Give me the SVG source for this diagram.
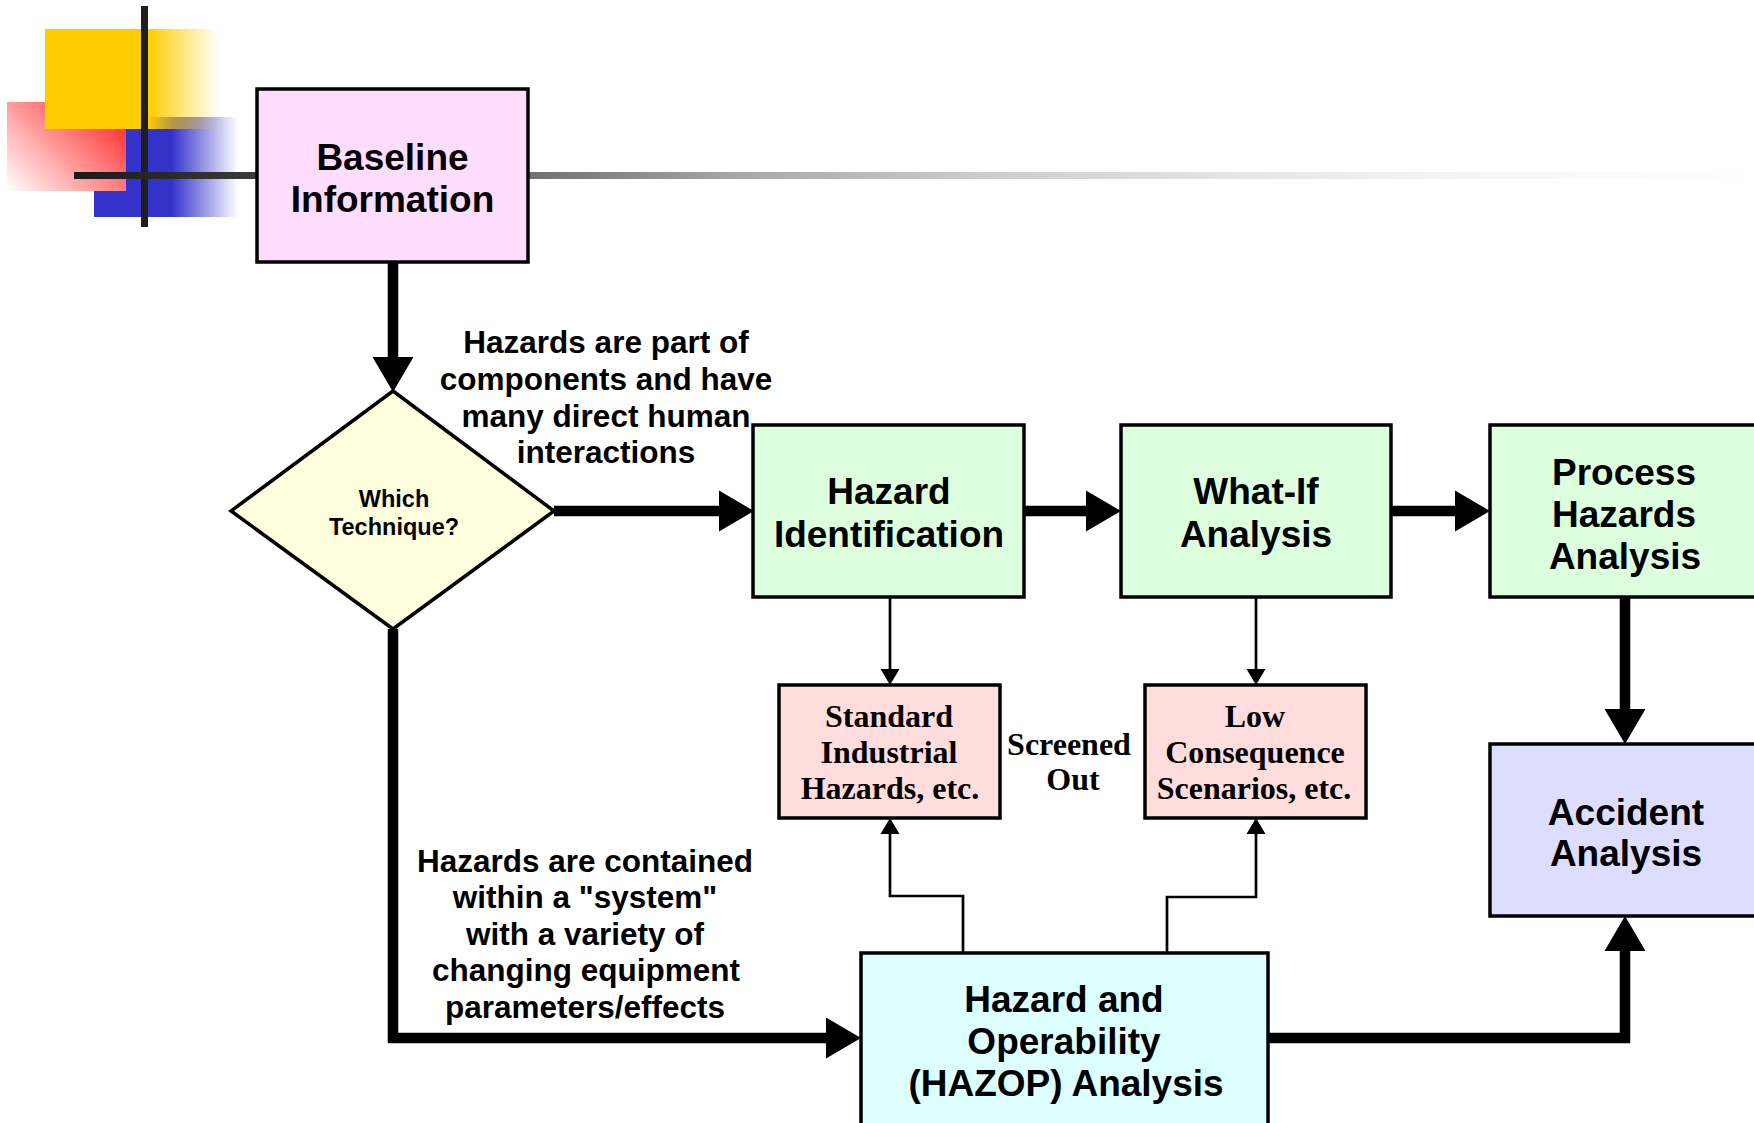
<svg xmlns="http://www.w3.org/2000/svg" width="1754" height="1123" viewBox="0 0 1754 1123">
<style>
  .box { stroke:#000; stroke-width:3.5; }
  .t { font-family:"Liberation Sans", Arial, sans-serif; font-weight:bold; fill:#000; text-anchor:middle; }
  .big { font-size:37px; }
  .lbl { font-size:31.5px; }
  .q { font-size:23.5px; }
  .s { font-family:"Liberation Serif", "Times New Roman", serif; font-weight:bold; font-size:32px; fill:#000; text-anchor:middle; }
  .thick { fill:none; stroke:#000; stroke-width:10.5; stroke-linejoin:miter; }
  .thin { fill:none; stroke:#000; stroke-width:2.7; stroke-linejoin:miter; }
</style>
<defs>
  <marker id="bigArrow" markerUnits="userSpaceOnUse" markerWidth="36" markerHeight="41" refX="0" refY="20.5" orient="auto" overflow="visible">
    <path d="M0,0 L35,20.5 L0,41 z" fill="#000"/>
  </marker>
  <marker id="smallArrow" markerUnits="userSpaceOnUse" markerWidth="17" markerHeight="19" refX="0" refY="9.5" orient="auto" overflow="visible">
    <path d="M0,0 L16,9.5 L0,19 z" fill="#000"/>
  </marker>
  <linearGradient id="gYellow" x1="0" y1="0" x2="1" y2="0">
    <stop offset="0" stop-color="#FFCC00"/>
    <stop offset="0.59" stop-color="#FFCC00"/>
    <stop offset="1" stop-color="#FFCC00" stop-opacity="0"/>
  </linearGradient>
  <linearGradient id="gBlue" x1="0" y1="0" x2="1" y2="0">
    <stop offset="0" stop-color="#3333CC"/>
    <stop offset="0.54" stop-color="#3333CC"/>
    <stop offset="1" stop-color="#3333CC" stop-opacity="0"/>
  </linearGradient>
  <linearGradient id="gRed" x1="1" y1="0.25" x2="0" y2="1">
    <stop offset="0" stop-color="#FF3333"/>
    <stop offset="1" stop-color="#FFFFFF"/>
  </linearGradient>
  <linearGradient id="gLine" gradientUnits="userSpaceOnUse" x1="74" y1="0" x2="1754" y2="0">
    <stop offset="0" stop-color="#1a1a1a"/>
    <stop offset="0.109" stop-color="#3a3a3a"/>
    <stop offset="0.27" stop-color="#707070"/>
    <stop offset="0.396" stop-color="#a8a8a8"/>
    <stop offset="0.539" stop-color="#cccccc"/>
    <stop offset="0.696" stop-color="#e6e6e6"/>
    <stop offset="0.825" stop-color="#f5f5f5"/>
    <stop offset="1" stop-color="#ffffff"/>
  </linearGradient>
</defs>
<rect width="1754" height="1123" fill="#fff"/>

<!-- decoration -->
<rect x="94" y="117" width="144" height="100" fill="url(#gBlue)"/>
<rect x="7" y="102" width="119" height="89" fill="url(#gRed)"/>
<rect x="45" y="29" width="174" height="100" fill="url(#gYellow)"/>
<rect x="141" y="6" width="7" height="221" fill="#1e1e1e"/>
<rect x="74" y="172" width="1680" height="7" fill="url(#gLine)"/>

<g id="connectors">
  <path class="thick" d="M393,262 V357" marker-end="url(#bigArrow)"/>
  <path class="thick" d="M554,511 H719" marker-end="url(#bigArrow)"/>
  <path class="thick" d="M1024,511 H1086" marker-end="url(#bigArrow)"/>
  <path class="thick" d="M1391,511 H1455" marker-end="url(#bigArrow)"/>
  <path class="thick" d="M1625,597 V709" marker-end="url(#bigArrow)"/>
  <path class="thick" d="M393,629 V1038 H826" marker-end="url(#bigArrow)"/>
  <path class="thick" d="M1268,1038 H1625 V951" marker-end="url(#bigArrow)"/>
  <path class="thin" d="M890,597 V669" marker-end="url(#smallArrow)"/>
  <path class="thin" d="M1256,597 V669" marker-end="url(#smallArrow)"/>
  <path class="thin" d="M963,953 V896 H890 V834" marker-end="url(#smallArrow)"/>
  <path class="thin" d="M1167,953 V897 H1256 V834" marker-end="url(#smallArrow)"/>
</g>

<g id="baseline">
  <rect class="box" x="257" y="89" width="271" height="173" fill="#FFDDFF"/>
  <text class="t big" x="392.5" y="170">Baseline</text>
  <text class="t big" x="392.5" y="212">Information</text>
</g>

<g id="which-technique">
  <polygon class="box" points="393,391 554,511 393,629 231,511" fill="#FFFFDD" stroke-width="4"/>
  <text class="t q" x="394" y="507">Which</text>
  <text class="t q" x="394" y="535">Technique?</text>
</g>

<g id="label-components">
  <text class="t lbl" x="606" y="353">Hazards are part of</text>
  <text class="t lbl" x="606" y="390">components and have</text>
  <text class="t lbl" x="606" y="427">many direct human</text>
  <text class="t lbl" x="606" y="463">interactions</text>
</g>

<g id="hazard-identification">
  <rect class="box" x="753" y="425" width="271" height="172" fill="#DDFFDD"/>
  <text class="t big" x="889" y="504">Hazard</text>
  <text class="t big" x="889" y="547">Identification</text>
</g>

<g id="what-if">
  <rect class="box" x="1121" y="425" width="270" height="172" fill="#DDFFDD"/>
  <text class="t big" x="1256" y="504">What-If</text>
  <text class="t big" x="1256" y="547">Analysis</text>
</g>

<g id="process-hazards">
  <rect class="box" x="1490" y="425" width="270" height="172" fill="#DDFFDD"/>
  <text class="t big" x="1624" y="485">Process</text>
  <text class="t big" x="1624" y="527">Hazards</text>
  <text class="t big" x="1625" y="569">Analysis</text>
</g>

<g id="standard-industrial">
  <rect class="box" x="779" y="685" width="221" height="133" fill="#FFDDDD"/>
  <text class="s" x="889" y="727">Standard</text>
  <text class="s" x="889" y="763">Industrial</text>
  <text class="s" x="890" y="799">Hazards, etc.</text>
</g>

<g id="screened-out">
  <text class="s" x="1069" y="755">Screened</text>
  <text class="s" x="1073" y="790">Out</text>
</g>

<g id="low-consequence">
  <rect class="box" x="1145" y="685" width="221" height="133" fill="#FFDDDD"/>
  <text class="s" x="1255" y="727">Low</text>
  <text class="s" x="1255" y="763">Consequence</text>
  <text class="s" x="1254" y="799">Scenarios, etc.</text>
</g>

<g id="accident-analysis">
  <rect class="box" x="1490" y="744" width="270" height="172" fill="#DDDDFF"/>
  <text class="t big" x="1626" y="825">Accident</text>
  <text class="t big" x="1626" y="866">Analysis</text>
</g>

<g id="label-system">
  <text class="t lbl" x="585" y="872">Hazards are contained</text>
  <text class="t lbl" x="585" y="908">within a "system"</text>
  <text class="t lbl" x="585" y="945">with a variety of</text>
  <text class="t lbl" x="586" y="981">changing equipment</text>
  <text class="t lbl" x="585" y="1018">parameters/effects</text>
</g>

<g id="hazop">
  <rect class="box" x="861" y="953" width="407" height="185" fill="#DDFFFF"/>
  <text class="t big" x="1064" y="1012">Hazard and</text>
  <text class="t big" x="1064" y="1054">Operability</text>
  <text class="t big" x="1066" y="1096">(HAZOP) Analysis</text>
</g>
</svg>
